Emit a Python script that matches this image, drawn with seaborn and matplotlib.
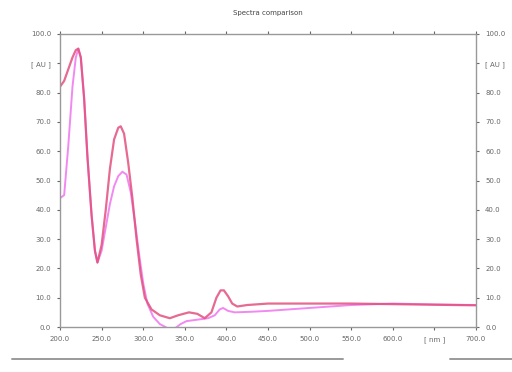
import matplotlib
matplotlib.use("Agg")
import matplotlib.pyplot as plt
from matplotlib.lines import Line2D
import seaborn as sns
import pandas as pd

# wavelength (nm) and absorbance (AU) for the two spectra
wl_a = [200, 205, 210, 215, 219, 222, 225, 229, 233, 238, 242, 245, 250, 255, 260, 265, 270, 273,
        277, 282, 287, 292, 297, 302, 310, 320, 332, 342, 355, 365, 374, 382, 388, 393, 397,
        402, 407, 413, 425, 450, 500, 550, 600, 650, 700]
ab_a = [82, 84, 88, 92, 94.5, 95, 92, 78, 58, 38, 26, 22, 28, 40, 54, 64, 68, 68.5,
        66, 56, 44, 30, 18, 10, 6, 4, 3, 4, 5, 4.5, 3, 5, 10, 12.5, 12.5,
        10.5, 8, 7, 7.5, 8, 8, 8, 7.8, 7.6, 7.4]

wl_b = [200, 205, 210, 215, 219, 222, 225, 229, 233, 238, 242, 245, 250, 255, 260, 265, 270, 275,
        280, 285, 290, 295, 300, 305, 312, 320, 330, 338, 345, 352, 365, 378, 386, 392, 396,
        402, 410, 430, 450, 500, 550, 600, 650, 700]
ab_b = [44, 45, 62, 82, 92, 95, 92, 78, 58, 38, 26, 22, 26, 34, 42, 48, 51.5, 53,
        52, 46, 36, 25, 15, 8, 3.5, 1, -0.5, -0.5, 1, 2, 2.5, 3, 4, 6, 6.5,
        5.5, 5, 5.2, 5.5, 6.5, 7.5, 8, 7.7, 7.5]

x_ticks = [200, 250, 300, 350, 400, 450, 500, 550, 600, 650, 700]
x_labels = ["200.0", "250.0", "300.0", "350.0", "400.0", "450.0", "500.0", "550.0", "600.0", "[ nm ]", "700.0"]
y_ticks = [0, 10, 20, 30, 40, 50, 60, 70, 80, 90, 100]
y_labels = ["0.0", "10.0", "20.0", "30.0", "40.0", "50.0", "60.0", "70.0", "80.0", "[ AU ]", "100.0"]

sns.set_style("white")
plt.rcParams["font.family"] = ["DejaVu Sans"]

fig = plt.figure(figsize=(5.12, 3.72), dpi=100)
ax = fig.add_axes([60/512, 1-327/372, (476-60)/512, (327-34)/372])

df_a = pd.DataFrame({"wl": wl_a, "ab": ab_a})
df_b = pd.DataFrame({"wl": wl_b, "ab": ab_b})
sns.lineplot(data=df_b, x="wl", y="ab", ax=ax, color="#f07cf0", lw=1.4, alpha=0.9)
sns.lineplot(data=df_a, x="wl", y="ab", ax=ax, color="#e2507e", lw=1.6, alpha=0.85)

ax.set_xlim(200, 700)
ax.set_ylim(0, 100)
ax.set_xticks(x_ticks)
ax.set_xticklabels(x_labels)
ax.set_yticks(y_ticks)
ax.set_yticklabels(y_labels)
ax.set_xlabel("")
ax.set_ylabel("")
ax.tick_params(axis="both", labelsize=5, colors="#666666", length=2.5, width=0.8,
               direction="out", pad=4)
ax.tick_params(axis="y", right=True, labelright=True, left=True)
ax.tick_params(axis="x", top=True, bottom=True)
for s in ax.spines.values():
    s.set_color("#999999")
    s.set_linewidth(1.0)
ax.set_title("Spectra comparison", fontsize=5, color="#444444", pad=14)

fig.add_artist(Line2D([12/512, 343/512], [1-359/372]*2, color="#9a9a9a", lw=1.4))
fig.add_artist(Line2D([450/512, 1.0], [1-359/372]*2, color="#9a9a9a", lw=1.4))

fig.savefig("out.png", dpi=100)
